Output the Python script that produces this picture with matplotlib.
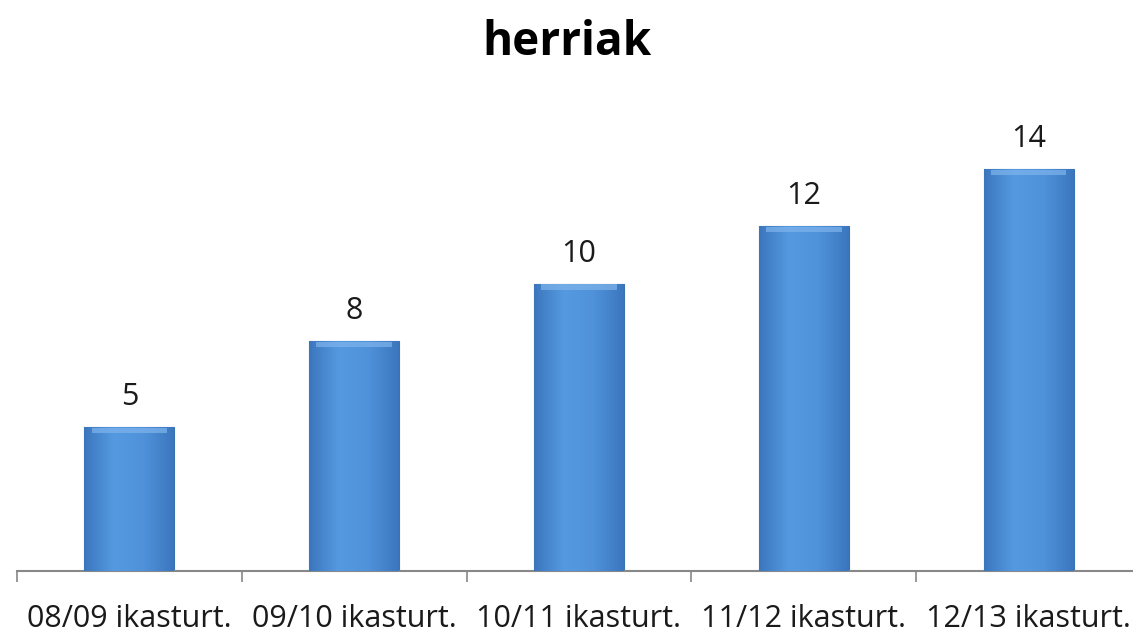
import numpy as np
import matplotlib.pyplot as plt
from matplotlib.colors import LinearSegmentedColormap

title = "herriak"
categories = ["08/09 ikasturt.", "09/10 ikasturt.", "10/11 ikasturt.",
              "11/12 ikasturt.", "12/13 ikasturt."]
values = [5, 8, 10, 12, 14]

plt.rcParams['font.family'] = ['Open Sans', 'DejaVu Sans']

fig = plt.figure(figsize=(11.33, 6.34), dpi=100)
# plot area: x from 17 to 1141 px, baseline at y=571 px
ax = fig.add_axes([17 / 1133, (634 - 571) / 634, 1124 / 1133, 0.72])

x = np.arange(len(categories))
bars = ax.bar(x, values, width=0.40, color="#4a8bd3", edgecolor="#3a70b4",
              linewidth=0.8, zorder=2)

# subtle horizontal shading on each bar
cmap = LinearSegmentedColormap.from_list("bar", ["#3b76bd", "#559ae0", "#4f92da", "#3b76bd"])
grad = np.linspace(0, 1, 256).reshape(1, -1)
for b in bars:
    x0, w, h = b.get_x(), b.get_width(), b.get_height()
    im = ax.imshow(grad, cmap=cmap, aspect="auto", extent=[x0, x0 + w, 0, h],
                   zorder=3, interpolation="bicubic")
    im.set_clip_path(b)
    # lighter bevel on top
    ax.fill_between([x0 + w * 0.08, x0 + w * 0.92], h - 0.2, h - 0.02,
                    color="#7fb4ec", alpha=0.7, zorder=4, linewidth=0)

for xi, v in zip(x, values):
    ax.text(xi, v + 0.78, str(v), ha="center", va="baseline", fontsize=22, color="#1a1a1a")

ax.set_xlim(-0.5, len(categories) - 0.5)
ax.set_ylim(0, 15.9)
ax.set_xticks(x)
ax.set_xticklabels(categories, fontsize=22, color="#1a1a1a")
ax.set_xticks(np.arange(len(categories) + 1) - 0.5, minor=True)
ax.tick_params(axis="x", which="major", length=0, pad=24)
ax.tick_params(axis="x", which="minor", length=8, color="#888888", width=1.2)
ax.set_yticks([])
for s in ["left", "right", "top"]:
    ax.spines[s].set_visible(False)
ax.spines["bottom"].set_color("#888888")
ax.spines["bottom"].set_linewidth(1.5)

fig.text(0.5, 1 - 55 / 634, title, ha="center", va="baseline", fontsize=33, fontweight="bold")

fig.savefig("out.png", dpi=100)
